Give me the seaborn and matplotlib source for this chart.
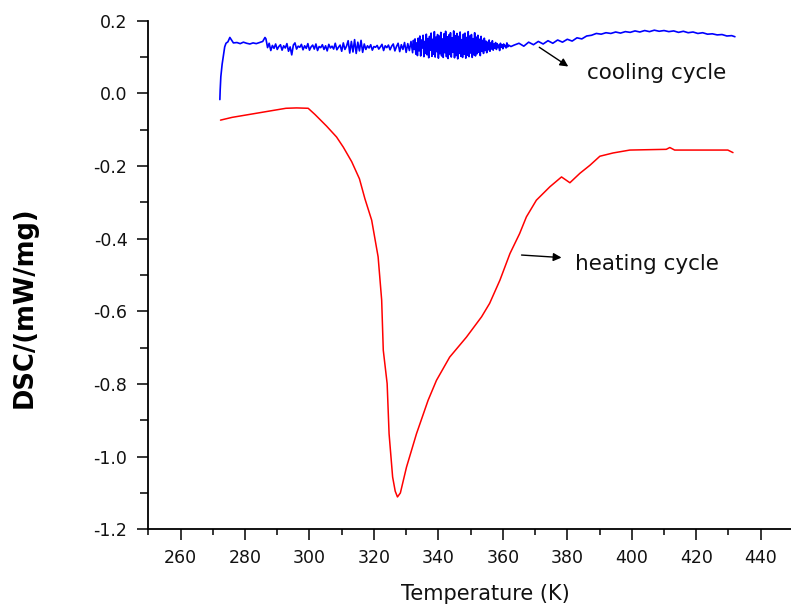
import numpy as np
import pandas as pd
import matplotlib
matplotlib.use("Agg")
import matplotlib.pyplot as plt
from matplotlib.ticker import MultipleLocator, FixedLocator
import seaborn as sns

# ---- heating cycle (red) ----
heat_T = [272.4, 276, 280, 284, 288, 292.7, 296, 299.6, 301.7, 305.3, 308.4, 310.5,
          313.1, 315.5, 317.2, 319.3, 321.3, 322.4, 322.9, 324.1, 324.7, 325.8,
          326.6, 327.3, 328.2, 330.1, 333.2, 336.8, 339.4, 343.5, 348.7, 353.4,
          355.9, 359.1, 362.2, 365.2, 367.3, 370.4, 374.6, 378.2, 380.8, 383.9,
          387.0, 390.1, 394.2, 399.4, 405, 410.7, 411.8, 413.3, 420, 425, 429.8, 431.4]
heat_v = [-0.0736, -0.066, -0.060, -0.054, -0.048, -0.041, -0.040, -0.041, -0.058,
          -0.090, -0.120, -0.148, -0.188, -0.235, -0.290, -0.349, -0.450, -0.569,
          -0.707, -0.799, -0.937, -1.056, -1.095, -1.111, -1.100, -1.029, -0.937,
          -0.845, -0.790, -0.726, -0.671, -0.615, -0.578, -0.514, -0.441, -0.386,
          -0.340, -0.294, -0.257, -0.230, -0.246, -0.220, -0.198, -0.173, -0.164,
          -0.156, -0.155, -0.154, -0.149, -0.156, -0.156, -0.156, -0.156, -0.163]

# ---- cooling cycle (blue) ----
cool_T_start = [272.2, 272.3, 272.5, 272.9, 273.3, 273.7, 274.1, 274.7, 275.3, 275.9,
                276.4, 277.5, 278.5, 279.5, 280.5, 281.5, 282.5, 283.5, 284.5, 285.5,
                286.2, 286.5]
cool_v_start = [-0.017, 0.010, 0.046, 0.080, 0.105, 0.128, 0.138, 0.142, 0.154, 0.146,
                0.139, 0.140, 0.137, 0.141, 0.138, 0.136, 0.139, 0.137, 0.140, 0.143,
                0.154, 0.150]
cool_T_mid = [287.0, 287.5, 288.0, 288.5, 289.0, 289.5, 290.0, 290.5, 291.0, 291.5,
              292.0, 292.5, 293.0, 293.5, 294.0, 294.5, 295.0, 295.5, 296.0, 296.5,
              297.0, 297.5, 298.0, 298.5, 299.0, 299.5, 300.0, 300.5, 301.0, 301.5,
              302.0, 302.5, 303.0, 303.5, 304.0, 304.5, 305.0, 305.5, 306.0, 306.5,
              307.0, 307.5, 308.0, 308.5, 309.0, 309.5, 310.0, 310.5, 311.0, 311.5,
              312.0, 312.5, 313.0, 313.5, 314.0, 314.5, 315.0, 315.5, 316.0, 316.5,
              317.0, 317.5, 318.0, 318.5, 319.0, 319.5, 320.0, 320.5, 321.0, 321.5,
              322.0, 322.5, 323.0, 323.5, 324.0, 324.5, 325.0, 325.5, 326.0, 326.5,
              327.0, 327.5, 328.0, 328.5, 329.0, 329.5, 330.0, 330.5, 331.0, 331.5]
cool_v_mid = [0.126, 0.138, 0.118, 0.132, 0.124, 0.136, 0.121, 0.129, 0.134, 0.119,
              0.131, 0.125, 0.137, 0.116, 0.128, 0.106, 0.133, 0.139, 0.122, 0.130,
              0.127, 0.135, 0.120, 0.131, 0.124, 0.137, 0.119, 0.128, 0.133, 0.122,
              0.136, 0.118, 0.129, 0.126, 0.134, 0.121, 0.131, 0.117, 0.135, 0.125,
              0.130, 0.122, 0.138, 0.120, 0.127, 0.133, 0.116, 0.139, 0.121, 0.130,
              0.145, 0.111, 0.143, 0.114, 0.148, 0.110, 0.141, 0.117, 0.146, 0.113,
              0.136, 0.121, 0.131, 0.125, 0.134, 0.119, 0.129, 0.127, 0.132, 0.122,
              0.128, 0.135, 0.118, 0.131, 0.126, 0.133, 0.120, 0.130, 0.136, 0.117,
              0.129, 0.138, 0.115, 0.134, 0.121, 0.140, 0.113, 0.137, 0.118, 0.143]
cool_T_noisy = [332.0, 332.25, 332.5, 332.75, 333.0, 333.25, 333.5, 333.75,
                334.0, 334.25, 334.5, 334.75, 335.0, 335.25, 335.5, 335.75,
                336.0, 336.25, 336.5, 336.75, 337.0, 337.25, 337.5, 337.75,
                338.0, 338.25, 338.5, 338.75, 339.0, 339.25, 339.5, 339.75,
                340.0, 340.25, 340.5, 340.75, 341.0, 341.25, 341.5, 341.75,
                342.0, 342.25, 342.5, 342.75, 343.0, 343.25, 343.5, 343.75,
                344.0, 344.25, 344.5, 344.75, 345.0, 345.25, 345.5, 345.75,
                346.0, 346.25, 346.5, 346.75, 347.0, 347.25, 347.5, 347.75,
                348.0, 348.25, 348.5, 348.75, 349.0, 349.25, 349.5, 349.75,
                350.0, 350.25, 350.5, 350.75, 351.0, 351.25, 351.5, 351.75,
                352.0, 352.25, 352.5, 352.75, 353.0, 353.25, 353.5, 353.75,
                354.0, 354.25, 354.5, 354.75, 355.0, 355.25, 355.5, 355.75,
                356.0, 356.25, 356.5, 356.75, 357.0, 357.25, 357.5, 357.75,
                358.0, 358.25, 358.5, 358.75, 359.0, 359.25, 359.5, 359.75,
                360.0, 360.25, 360.5, 360.75, 361.0, 361.25, 361.5, 361.75]
cool_v_noisy = [0.112, 0.146, 0.121, 0.150, 0.108, 0.139, 0.104, 0.152,
                0.117, 0.158, 0.103, 0.147, 0.125, 0.160, 0.101, 0.143,
                0.110, 0.163, 0.106, 0.151, 0.098, 0.157, 0.119, 0.166,
                0.102, 0.149, 0.108, 0.170, 0.100, 0.155, 0.115, 0.162,
                0.097, 0.158, 0.109, 0.168, 0.103, 0.150, 0.099, 0.164,
                0.112, 0.171, 0.101, 0.156, 0.096, 0.161, 0.107, 0.167,
                0.100, 0.153, 0.113, 0.172, 0.098, 0.159, 0.104, 0.165,
                0.095, 0.157, 0.110, 0.169, 0.102, 0.148, 0.099, 0.163,
                0.108, 0.166, 0.097, 0.154, 0.105, 0.170, 0.101, 0.158,
                0.111, 0.162, 0.099, 0.151, 0.106, 0.167, 0.103, 0.155,
                0.109, 0.160, 0.113, 0.149, 0.104, 0.157, 0.116, 0.146,
                0.110, 0.152, 0.118, 0.144, 0.112, 0.141, 0.120, 0.147,
                0.116, 0.139, 0.122, 0.145, 0.119, 0.136, 0.124, 0.140,
                0.121, 0.137, 0.126, 0.133, 0.118, 0.138, 0.127, 0.134,
                0.123, 0.136, 0.129, 0.132, 0.125, 0.139, 0.128, 0.133]
cool_T_end = [362.5, 363.5, 365.0, 366.5, 368.0, 369.5, 371.0, 372.5, 374.0, 375.5,
              377.0, 378.5, 380.0, 381.5, 383.0, 384.5, 386.0, 387.5, 389.0, 390.5,
              392.0, 393.5, 395.0, 396.5, 398.0, 399.5, 401.0, 402.5, 404.0, 405.5,
              407.0, 408.5, 410.0, 411.5, 413.0, 414.5, 416.0, 417.5, 419.0, 420.5,
              422.0, 423.5, 425.0, 426.5, 428.0, 429.5, 431.0, 432.0]
cool_v_end = [0.129, 0.133, 0.138, 0.130, 0.141, 0.134, 0.143, 0.136, 0.145, 0.138,
              0.147, 0.141, 0.149, 0.144, 0.153, 0.150, 0.158, 0.160, 0.165, 0.163,
              0.167, 0.165, 0.169, 0.166, 0.170, 0.168, 0.172, 0.169, 0.173, 0.170,
              0.174, 0.171, 0.173, 0.170, 0.172, 0.168, 0.171, 0.167, 0.169, 0.165,
              0.167, 0.163, 0.164, 0.161, 0.162, 0.158, 0.159, 0.156]

x_major_ticks = [260, 280, 300, 320, 340, 360, 380, 400, 420, 440]
y_major_ticks = [-1.2, -1.0, -0.8, -0.6, -0.4, -0.2, 0.0, 0.2]

cool_T = cool_T_start + cool_T_mid + cool_T_noisy + cool_T_end
cool_v = cool_v_start + cool_v_mid + cool_v_noisy + cool_v_end

heat_df = pd.DataFrame({"T": heat_T, "DSC": heat_v})
cool_df = pd.DataFrame({"T": cool_T, "DSC": cool_v})

sns.set_style("ticks")
plt.rcParams["font.family"] = ["DejaVu Sans"]

fig = plt.figure(figsize=(7.91, 6.10), dpi=100)
ax = fig.add_axes([0.1875, 0.1323, 0.8125, 0.8337])

sns.lineplot(data=cool_df, x="T", y="DSC", sort=False, estimator=None,
             color="#0000ff", lw=1.2, ax=ax)
sns.lineplot(data=heat_df, x="T", y="DSC", sort=False, estimator=None,
             color="#ff0000", lw=1.1, ax=ax)

ax.set_xlim(250, 449.4)
ax.set_ylim(-1.2, 0.2)
ax.xaxis.set_major_locator(FixedLocator(x_major_ticks))
ax.xaxis.set_minor_locator(MultipleLocator(10))
ax.yaxis.set_major_locator(FixedLocator(y_major_ticks))
ax.yaxis.set_minor_locator(MultipleLocator(0.1))
ax.set_yticklabels([f"{v:.1f}" for v in y_major_ticks])

for s in ["top", "right"]:
    ax.spines[s].set_visible(False)
for s in ["left", "bottom"]:
    ax.spines[s].set_linewidth(1.3)
    ax.spines[s].set_color("black")

ax.tick_params(axis="both", which="major", length=8, width=1.1, color="black",
               labelsize=12.5, labelcolor="#111111")
ax.tick_params(axis="x", which="major", pad=6)
ax.tick_params(axis="y", which="major", pad=7)
ax.tick_params(axis="x", which="minor", length=4.2, width=1.1, color="black")
ax.tick_params(axis="y", which="minor", length=5.5, width=1.1, color="black")

ax.set_xlabel("Temperature (K)", fontsize=15, color="#111111")
ax.set_ylabel("DSC/(mW/mg)", fontsize=18.5, fontweight="heavy", color="black")
ax.xaxis.set_label_coords(0.525, -0.108)
ax.yaxis.set_label_coords(-0.172, 0.437)

arrow_kw = dict(arrowstyle="-|>", color="black", lw=1.0,
                mutation_scale=12, shrinkA=0, shrinkB=0)
ax.text(386.0, 0.056, "cooling cycle", fontsize=15.5, color="#111111",
        va="center", ha="left")
ax.annotate("", xy=(380.3, 0.074), xytext=(371.3, 0.127), arrowprops=arrow_kw)
ax.text(382.3, -0.470, "heating cycle", fontsize=15.5, color="#111111",
        va="center", ha="left")
ax.annotate("", xy=(378.2, -0.452), xytext=(365.8, -0.445), arrowprops=arrow_kw)

fig.savefig("out.png", dpi=100)
